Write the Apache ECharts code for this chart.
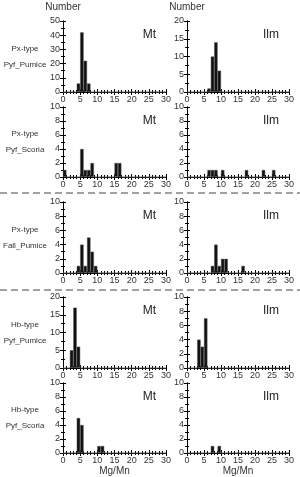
<!DOCTYPE html>
<html>
<head>
<meta charset="utf-8">
<script src="https://cdn.jsdelivr.net/npm/echarts@6/dist/echarts.min.js"></script>
<style>
html, body { margin: 0; padding: 0; background: #fff; }
#main { width: 300px; height: 477px; }
</style>
</head>
<body>
<div id="main"></div>
<script>
// histogram counts per 1-unit Mg/Mn bin: [bin start, count]
var pxPyfPumiceMt  = [[4, 6], [5, 42], [6, 22], [7, 6]];
var pxPyfPumiceIlm = [[6, 1], [7, 10], [8, 14], [9, 6]];
var pxPyfScoriaMt  = [[0, 1], [5, 4], [6, 1], [7, 1], [8, 2], [15, 2], [16, 2]];
var pxPyfScoriaIlm = [[6, 1], [7, 1], [8, 1], [10, 1], [17, 1], [22, 1], [25, 1]];
var pxFallPumiceMt  = [[4, 1], [5, 4], [6, 1], [7, 5], [8, 3], [9, 1]];
var pxFallPumiceIlm = [[7, 1], [8, 4], [9, 1], [10, 2], [11, 2], [16, 1]];
var hbPyfPumiceMt  = [[2, 5], [3, 17], [4, 6]];
var hbPyfPumiceIlm = [[3, 4], [4, 3], [5, 7]];
var hbPyfScoriaMt  = [[4, 5], [5, 4], [10, 1], [11, 1]];
var hbPyfScoriaIlm = [[7, 1], [9, 1]];

var rowType = ['Px-type', 'Px-type', 'Px-type', 'Hb-type', 'Hb-type'];
var rowUnit = ['Pyf_Pumice', 'Pyf_Scoria', 'Fall_Pumice', 'Pyf_Pumice', 'Pyf_Scoria'];
var mtMax = [50, 10, 10, 20, 10];
var mtStep = [10, 2, 2, 5, 2];
var ilmMax = [20, 10, 10, 10, 10];
var ilmStep = [5, 2, 2, 2, 2];
var mtData = [pxPyfPumiceMt, pxPyfScoriaMt, pxFallPumiceMt, hbPyfPumiceMt, hbPyfScoriaMt];
var ilmData = [pxPyfPumiceIlm, pxPyfScoriaIlm, pxFallPumiceIlm, hbPyfPumiceIlm, hbPyfScoriaIlm];

var bins = [];
for (var b = 0; b < 30; b++) bins.push(String(b));

function toCounts(pairs) {
    var arr = [];
    for (var k = 0; k < 30; k++) arr.push(0);
    pairs.forEach(function (p) { arr[p[0]] = p[1]; });
    return arr;
}

var rowTop = [21, 107, 202, 297, 383];
var rowH = [71, 70, 71, 71, 70];
var colLeft = [63, 187];
var colW = [103, 102];

var font = '"Liberation Sans", Arial, sans-serif';
var txt = '#333';

var grids = [], xAxes = [], yAxes = [], series = [], graphics = [];

for (var r = 0; r < 5; r++) {
    for (var c = 0; c < 2; c++) {
        var g = grids.length;
        grids.push({ left: colLeft[c], top: rowTop[r], width: colW[c], height: rowH[r] });
        var tick = { inside: true, length: 3, lineStyle: { color: '#000' } };
        var line = { show: true, lineStyle: { color: '#000', width: 1 } };
        xAxes.push({
            type: 'value', gridIndex: g, position: 'bottom', min: 0, max: 30, interval: 5,
            axisLine: line, axisTick: tick,
            minorTick: { show: true, splitNumber: 5, length: 2, lineStyle: { color: '#000' } },
            splitLine: { show: false },
            axisLabel: { fontSize: 9, color: txt, margin: 3, fontFamily: font }
        });
        xAxes.push({
            type: 'value', gridIndex: g, position: 'top', min: 0, max: 30, interval: 5,
            axisLine: line, axisTick: tick,
            minorTick: { show: true, splitNumber: 5, length: 2, lineStyle: { color: '#000' } },
            splitLine: { show: false }, axisLabel: { show: false }
        });
        xAxes.push({
            type: 'category', gridIndex: g, data: bins, boundaryGap: true, show: false
        });
        var ymax = c === 0 ? mtMax[r] : ilmMax[r];
        var ystep = c === 0 ? mtStep[r] : ilmStep[r];
        yAxes.push({
            type: 'value', gridIndex: g, position: 'left', min: 0, max: ymax, interval: ystep,
            axisLine: line, axisTick: tick,
            minorTick: { show: true, splitNumber: 2, length: 2, lineStyle: { color: '#000' } },
            splitLine: { show: false },
            axisLabel: { fontSize: 9, color: txt, margin: 3, fontFamily: font }
        });
        yAxes.push({
            type: 'value', gridIndex: g, position: 'right', min: 0, max: ymax, interval: ystep,
            axisLine: line, axisTick: tick,
            minorTick: { show: true, splitNumber: 2, length: 2, lineStyle: { color: '#000' } },
            splitLine: { show: false }, axisLabel: { show: false }
        });
        series.push({
            type: 'bar', xAxisIndex: g * 3 + 2, yAxisIndex: g * 2,
            data: toCounts(c === 0 ? mtData[r] : ilmData[r]),
            barWidth: '100%', barCategoryGap: 0,
            itemStyle: { color: '#111', borderColor: '#555', borderWidth: 0.5 },
            silent: true, animation: false
        });
        graphics.push({
            type: 'text', x: colLeft[c] + colW[c] - 10, y: rowTop[r] + 14,
            style: { text: c === 0 ? 'Mt' : 'Ilm', fontSize: 12, fill: '#222', fontFamily: font,
                     align: 'right', verticalAlign: 'middle' }
        });
    }
    var mid = rowTop[r] + rowH[r] / 2;
    graphics.push({
        type: 'text', x: 25, y: mid - 8,
        style: { text: rowType[r], fontSize: 8, fill: txt, fontFamily: font, align: 'center', verticalAlign: 'middle' }
    });
    graphics.push({
        type: 'text', x: 25, y: mid + 8,
        style: { text: rowUnit[r], fontSize: 8, fill: txt, fontFamily: font, align: 'center', verticalAlign: 'middle' }
    });
}

// column headings and x titles
[0, 1].forEach(function (c) {
    graphics.push({
        type: 'text', x: colLeft[c], y: 7,
        style: { text: 'Number', fontSize: 10, fill: txt, fontFamily: font, align: 'center', verticalAlign: 'middle' }
    });
    graphics.push({
        type: 'text', x: colLeft[c] + colW[c] / 2, y: 471,
        style: { text: 'Mg/Mn', fontSize: 10, fill: txt, fontFamily: font, align: 'center', verticalAlign: 'middle' }
    });
});

// dashed separators between rock types
[193, 290].forEach(function (y) {
    graphics.push({
        type: 'line', shape: { x1: 0, y1: y, x2: 300, y2: y },
        style: { stroke: '#444', lineWidth: 1, lineDash: [7, 4] }
    });
});

var myChart = echarts.init(document.getElementById('main'), null, { renderer: 'canvas' });
myChart.setOption({
    animation: false,
    grid: grids,
    xAxis: xAxes,
    yAxis: yAxes,
    series: series,
    graphic: graphics
});
</script>
</body>
</html>
